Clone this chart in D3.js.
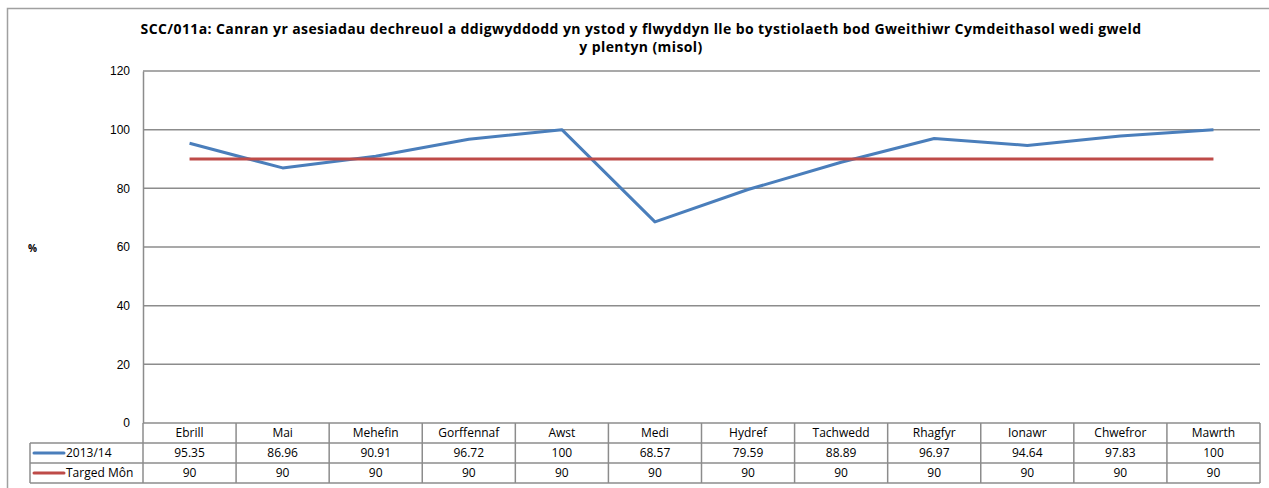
<!DOCTYPE html>
<html>
<head>
<meta charset="utf-8">
<script src="https://cdn.jsdelivr.net/npm/d3@7"></script>
<style>
  body { margin: 0; background: #fff; }
  svg { font-family: "Open Sans", "Liberation Sans", sans-serif; }
</style>
</head>
<body>
<svg id="chart" width="1269" height="488"></svg>
<script>
(function () {
  'use strict';

  // data
  const months = ['Ebrill', 'Mai', 'Mehefin', 'Gorffennaf', 'Awst', 'Medi',
    'Hydref', 'Tachwedd', 'Rhagfyr', 'Ionawr', 'Chwefror', 'Mawrth'];
  const actual = [95.35, 86.96, 90.91, 96.72, 100, 68.57, 79.59, 88.89, 96.97, 94.64, 97.83, 100];
  const target = [90, 90, 90, 90, 90, 90, 90, 90, 90, 90, 90, 90];
  const seriesNames = ['2013/14', 'Targed Môn'];
  const seriesColors = ['#4a7ebb', '#be4b48'];
  const yTicks = [0, 20, 40, 60, 80, 100, 120];

  const svg = d3.select('#chart');
  const left = 143, right = 1260, top = 71, bottom = 423;
  const rowH = 20;
  const grid = '#8c8c8c';

  // outer frame
  svg.append('path')
    .attr('d', 'M7.5,495 V8.5 H1275')
    .attr('fill', 'none')
    .attr('stroke', '#a0a0a0')
    .attr('stroke-width', 1.5);

  // title
  const title = svg.append('text')
    .attr('text-anchor', 'middle')
    .attr('font-size', 14)
    .attr('letter-spacing', 0.4)
    .attr('font-weight', 'bold')
    .attr('fill', '#000');
  title.append('tspan').attr('x', 641).attr('y', 34)
    .text('SCC/011a: Canran yr asesiadau dechreuol a ddigwyddodd yn ystod y flwyddyn lle bo tystiolaeth bod Gweithiwr Cymdeithasol wedi gweld');
  title.append('tspan').attr('x', 641).attr('y', 52)
    .text('y plentyn (misol)');

  const x = d3.scaleBand().domain(months).range([left, right]);
  const y = d3.scaleLinear().domain([0, 120]).range([bottom, top]);

  // gridlines
  svg.append('g')
    .selectAll('line')
    .data(yTicks.filter(d => d > 0))
    .join('line')
    .attr('x1', left).attr('x2', right)
    .attr('y1', d => y(d)).attr('y2', d => y(d))
    .attr('stroke', grid)
    .attr('stroke-width', 1.5);

  // y axis
  const yAxis = svg.append('g')
    .attr('transform', `translate(${left},0)`)
    .call(d3.axisLeft(y).tickValues(yTicks).tickSize(0).tickPadding(13));
  yAxis.select('.domain').attr('stroke', grid).attr('stroke-width', 1.5);
  yAxis.selectAll('text').attr('font-size', 12).attr('fill', '#000');

  svg.append('text')
    .attr('x', 28).attr('y', 252)
    .attr('font-size', 10)
    .attr('font-weight', 'bold')
    .text('%');

  // lines
  const line = d3.line()
    .x((d, i) => x(months[i]) + x.bandwidth() / 2)
    .y(d => y(d));

  [actual, target].forEach((vals, i) => {
    svg.append('path')
      .datum(vals)
      .attr('d', line)
      .attr('fill', 'none')
      .attr('stroke', seriesColors[i])
      .attr('stroke-width', 3)
      .attr('stroke-linejoin', 'round');
  });

  // data table
  const table = svg.append('g');
  const tableRows = [actual, target];
  const legendLeft = 30;
  const tableBottom = bottom + rowH * 3;

  // horizontal lines
  table.append('line')
    .attr('x1', left).attr('x2', right)
    .attr('y1', bottom).attr('y2', bottom)
    .attr('stroke', grid).attr('stroke-width', 1.5);
  [1, 2, 3].forEach(r => {
    table.append('line')
      .attr('x1', legendLeft).attr('x2', right)
      .attr('y1', bottom + rowH * r).attr('y2', bottom + rowH * r)
      .attr('stroke', grid).attr('stroke-width', 1.5);
  });
  // vertical lines
  table.selectAll('.vcol')
    .data(months)
    .join('line')
    .attr('class', 'vcol')
    .attr('x1', d => x(d) + x.bandwidth()).attr('x2', d => x(d) + x.bandwidth())
    .attr('y1', bottom).attr('y2', tableBottom)
    .attr('stroke', grid).attr('stroke-width', 1.5);
  table.append('line')
    .attr('x1', left).attr('x2', left)
    .attr('y1', bottom).attr('y2', tableBottom)
    .attr('stroke', grid).attr('stroke-width', 1.5);
  table.append('line')
    .attr('x1', legendLeft).attr('x2', legendLeft)
    .attr('y1', bottom + rowH).attr('y2', tableBottom)
    .attr('stroke', grid).attr('stroke-width', 1.5);

  // month labels
  table.selectAll('.mlab')
    .data(months)
    .join('text')
    .attr('class', 'mlab')
    .attr('x', d => x(d) + x.bandwidth() / 2)
    .attr('y', bottom + rowH / 2 + 4)
    .attr('text-anchor', 'middle')
    .attr('font-size', 12)
    .text(d => d);

  // value cells
  tableRows.forEach((vals, r) => {
    const cy = bottom + rowH * (r + 1) + rowH / 2 + 4;
    table.append('g')
      .selectAll('text')
      .data(vals)
      .join('text')
      .attr('x', (d, i) => x(months[i]) + x.bandwidth() / 2)
      .attr('y', cy)
      .attr('text-anchor', 'middle')
      .attr('font-size', 12)
      .text(d => d);

    // legend key
    const ly = bottom + rowH * (r + 1) + rowH / 2;
    table.append('line')
      .attr('x1', 34).attr('x2', 64)
      .attr('y1', ly).attr('y2', ly)
      .attr('stroke', seriesColors[r])
      .attr('stroke-width', 3)
      .attr('stroke-linecap', 'round');
    table.append('text')
      .attr('x', 66).attr('y', cy)
      .attr('font-size', 12)
      .text(seriesNames[r]);
  });
})();
</script>
</body>
</html>
